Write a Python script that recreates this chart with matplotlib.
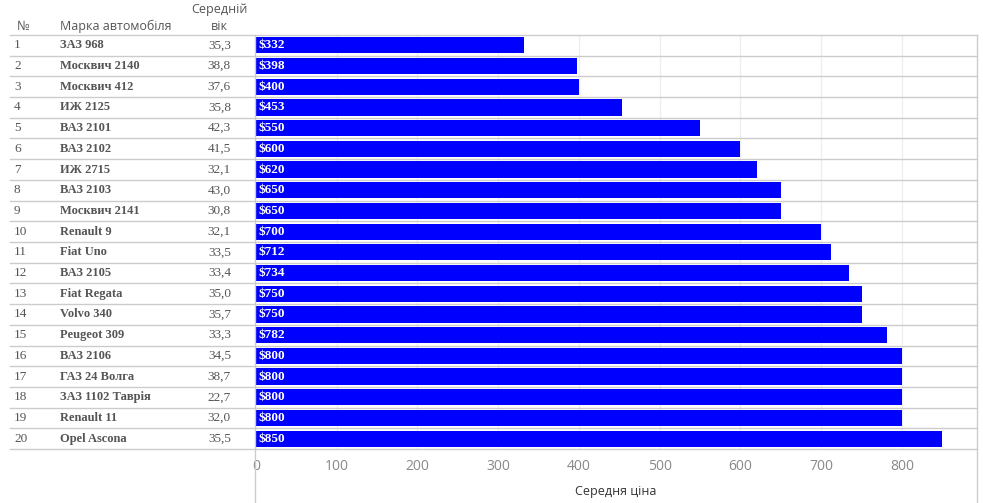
import matplotlib
matplotlib.use("Agg")
import matplotlib.pyplot as plt
from matplotlib.lines import Line2D
from matplotlib.transforms import blended_transform_factory

# data
ranks = list(range(1, 21))
brands = ["ЗАЗ 968", "Москвич 2140", "Москвич 412", "ИЖ 2125", "ВАЗ 2101",
          "ВАЗ 2102", "ИЖ 2715", "ВАЗ 2103", "Москвич 2141", "Renault 9",
          "Fiat Uno", "ВАЗ 2105", "Fiat Regata", "Volvo 340", "Peugeot 309",
          "ВАЗ 2106", "ГАЗ 24 Волга", "ЗАЗ 1102 Таврія", "Renault 11", "Opel Ascona"]
ages = ["35,3", "38,8", "37,6", "35,8", "42,3", "41,5", "32,1", "43,0", "30,8", "32,1",
        "33,5", "33,4", "35,0", "35,7", "33,3", "34,5", "38,7", "22,7", "32,0", "35,5"]
prices = [332, 398, 400, 453, 550, 600, 620, 650, 650, 700,
          712, 734, 750, 750, 782, 800, 800, 800, 800, 850]
xticks = [0, 100, 200, 300, 400, 500, 600, 700, 800]

W, H = 983, 503
SANS = ["Open Sans", "DejaVu Sans"]
SERIF = ["Liberation Serif", "DejaVu Serif"]
TXT = "#555555"
LINE = "#cccccc"


def fx(px):
    return px / W


def fy(py):
    return 1 - py / H


fig = plt.figure(figsize=(W / 100, H / 100), dpi=100)
ax = fig.add_axes([fx(255), fy(449), fx(977) - fx(255), (449 - 35) / H])

n = len(prices)
ypos = list(range(n))
ax.barh(ypos, prices, height=0.78, color="#0000ff", zorder=3)
ax.set_ylim(n - 0.5, -0.5)
ax.set_xlim(-1.2, 893)
ax.set_yticks([])
ax.set_xticks(xticks)
ax.tick_params(axis="x", length=0, pad=7, labelsize=10, labelcolor="#888888")
for lbl in ax.get_xticklabels():
    lbl.set_fontfamily(SANS)
for s in ax.spines.values():
    s.set_visible(False)
for t in xticks[1:]:
    ax.axvline(t, color="#eeeeee", lw=0.9, zorder=1)

for y, p in zip(ypos, prices):
    ax.text(3, y, f"${p}", ha="left", va="center", color="white",
            fontsize=9.5, fontweight="bold", family=SERIF, zorder=4)

# axis title placed in figure pixels below the ticks
fig.text((fx(255) + fx(977)) / 2, fy(492), "Середня ціна", ha="center", va="center",
         fontsize=9, color="#333333", family=SANS)

# table columns on the left, sharing the rows' y coordinates
tr = blended_transform_factory(fig.transFigure, ax.transData)
for y, r, b, a in zip(ypos, ranks, brands, ages):
    fig.text(fx(14), y, str(r), transform=tr, ha="left", va="center",
             fontsize=9.5, color=TXT, family=SERIF)
    fig.text(fx(60), y, b, transform=tr, ha="left", va="center",
             fontsize=9, fontweight="bold", color=TXT, family=SERIF)
    fig.text(fx(231), y, a, transform=tr, ha="right", va="center",
             fontsize=9.5, color=TXT, family=SERIF)

# row separators
for k in range(n + 1):
    fig.add_artist(Line2D([fx(10), fx(977)], [k - 0.5, k - 0.5], transform=tr,
                          color=LINE, lw=1))
# vertical borders of the bar area
for xp in (254.5, 977):
    fig.add_artist(Line2D([fx(xp), fx(xp)], [fy(35), 0], color=LINE, lw=1))

# header
fig.text(fx(17), fy(26), "№", ha="left", va="center", fontsize=9, color=TXT, family=SANS)
fig.text(fx(60), fy(26), "Марка автомобіля", ha="left", va="center",
         fontsize=9, color=TXT, family=SANS)
fig.text(fx(219), fy(9), "Середній", ha="center", va="center", fontsize=9, color=TXT, family=SANS)
fig.text(fx(219), fy(27), "вік", ha="center", va="center", fontsize=9, color=TXT, family=SANS)

fig.savefig("out.png", dpi=100)
